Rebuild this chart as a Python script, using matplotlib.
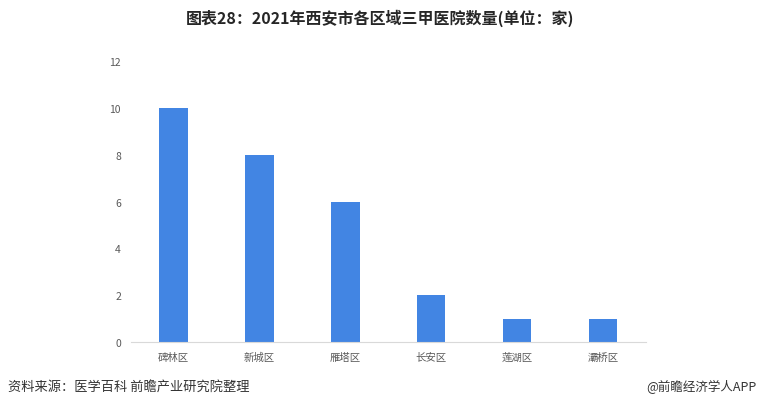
import matplotlib.pyplot as plt

plt.rcParams['font.family'] = ['Noto Sans CJK SC', 'DejaVu Sans']

# 数据
districts = ['碑林区', '新城区', '雁塔区', '长安区', '莲湖区', '灞桥区']
hospitals = [10, 8, 6, 2, 1, 1]
y_ticks = [0, 2, 4, 6, 8, 10, 12]

fig = plt.figure(figsize=(7.6, 4.1), dpi=100)
ax = fig.add_axes([0.172, 0.163, 0.678, 0.686])

x = range(len(districts))
ax.bar(x, hospitals, width=0.33, color='#4285e3')

ax.set_xlim(-0.5, len(districts) - 0.5)
ax.set_ylim(0, 12)
ax.set_yticks(y_ticks)
ax.set_xticks(list(x))
ax.set_xticklabels(districts)
ax.tick_params(axis='both', length=0, labelsize=7.5, colors='#595959')
ax.tick_params(axis='y', pad=7)
ax.tick_params(axis='x', pad=7)

for s in ['top', 'right', 'left']:
    ax.spines[s].set_visible(False)
ax.spines['bottom'].set_color('#d9d9d9')

fig.text(0.5, 0.955, '图表28：2021年西安市各区域三甲医院数量(单位：家)',
         ha='center', va='center', fontsize=11.5, fontweight='bold', color='#262626')
fig.text(0.01, 0.055, '资料来源：医学百科 前瞻产业研究院整理',
         ha='left', va='center', fontsize=9.5, color='#333333')
fig.text(0.996, 0.055, '@前瞻经济学人APP',
         ha='right', va='center', fontsize=9, color='#333333')

plt.savefig('out.png')
